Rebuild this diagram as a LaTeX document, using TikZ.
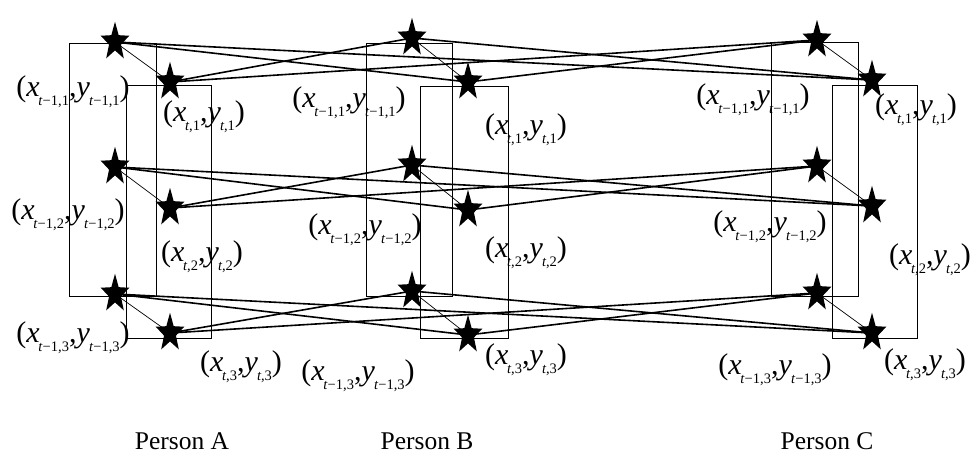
\documentclass[tikz,border=0pt]{standalone}
\usepackage{fontspec}
\setmainfont{Liberation Serif}
\usetikzlibrary{shapes.geometric}
\pgfdeclarelayer{bg}
\pgfsetlayers{bg,main}
\newcommand{\sbs}[1]{\raisebox{-0.3em}{\fontsize{14.5}{14.5}\selectfont #1}}
\newcommand{\labxy}[1]{(\textit{x}\kern-1.2pt\sbs{#1},\textit{y}\kern-0.8pt\sbs{#1})}
\newcommand{\labp}[1]{\labxy{\textit{t}−1,#1}}
\newcommand{\labc}[1]{\labxy{\textit{t},#1}}
\begin{document}
\begin{tikzpicture}[x=1pt,y=-1pt,
  starnode/.style={star,star points=5,star point ratio=2.4,fill=black,draw=none,inner sep=0pt,minimum size=30pt,yscale=1.35},
  box/.style={draw=black,line width=1pt},
  link/.style={line width=1.6pt},
  self/.style={line width=0.7pt},
  lbl/.style={inner sep=0pt,font=\fontsize{30}{32}\selectfont},
  plbl/.style={inner sep=0pt,font=\fontsize{25.5}{28}\selectfont}]
\useasboundingbox (0,0) rectangle (972,469);
% boxes
\draw[box] (69,43) rectangle (156,296);
\draw[box] (126,85) rectangle (211,338);
\draw[box] (366,43) rectangle (452,296);
\draw[box] (420,86) rectangle (508,338);
\draw[box] (771,42) rectangle (858,296);
\draw[box] (832,85) rectangle (917,338);
% stars: previous (t-1) and current (t)
\node[starnode] (pA1) at (115,42) {};
\node[starnode] (pA2) at (115,167) {};
\node[starnode] (pA3) at (115,294) {};
\node[starnode] (cA1) at (170,82) {};
\node[starnode] (cA2) at (170,208) {};
\node[starnode] (cA3) at (170,333) {};
\node[starnode] (pB1) at (412,38) {};
\node[starnode] (pB2) at (412,165) {};
\node[starnode] (pB3) at (412,291) {};
\node[starnode] (cB1) at (468,82) {};
\node[starnode] (cB2) at (468,210) {};
\node[starnode] (cB3) at (468,335) {};
\node[starnode] (pC1) at (817,40) {};
\node[starnode] (pC2) at (817,166) {};
\node[starnode] (pC3) at (817,293) {};
\node[starnode] (cC1) at (872,80) {};
\node[starnode] (cC2) at (872,206) {};
\node[starnode] (cC3) at (872,333) {};
% connectors
\begin{pgfonlayer}{bg}
\foreach \k in {1,2,3}{
  \draw[self] (pA\k.center) -- (cA\k.center);
  \draw[self] (pB\k.center) -- (cB\k.center);
  \draw[self] (pC\k.center) -- (cC\k.center);
  \draw[link] (pA\k.center) -- (cB\k.center);
  \draw[link] (pA\k.center) -- (cC\k.center);
  \draw[link] (pB\k.center) -- (cA\k.center);
  \draw[link] (pB\k.center) -- (cC\k.center);
  \draw[link] (pC\k.center) -- (cA\k.center);
  \draw[link] (pC\k.center) -- (cB\k.center);
}
\end{pgfonlayer}
% labels
\node[lbl] (lpA1) at (73,92) {\labp{1}};
\node[lbl] (lcA1) at (204,117) {\labc{1}};
\node[lbl] (lpA2) at (68,215) {\labp{2}};
\node[lbl] (lcA2) at (202,257) {\labc{2}};
\node[lbl] (lpA3) at (73,338) {\labp{3}};
\node[lbl] (lcA3) at (241,367) {\labc{3}};
\node[lbl] (lpB1) at (349,103) {\labp{1}};
\node[lbl] (lcB1) at (526,130) {\labc{1}};
\node[lbl] (lpB2) at (365,230) {\labp{2}};
\node[lbl] (lcB2) at (526,253) {\labc{2}};
\node[lbl] (lpB3) at (358,376) {\labp{3}};
\node[lbl] (lcB3) at (526,360) {\labc{3}};
\node[lbl] (lpC1) at (753,100) {\labp{1}};
\node[lbl] (lcC1) at (916,110) {\labc{1}};
\node[lbl] (lpC2) at (770,227) {\labp{2}};
\node[lbl] (lcC2) at (930,260) {\labc{2}};
\node[lbl] (lpC3) at (775,370) {\labp{3}};
\node[lbl] (lcC3) at (925,365) {\labc{3}};
\node[plbl] (nA) at (182,441) {Person A};
\node[plbl] (nB) at (427,441) {Person B};
\node[plbl] (nC) at (827,441) {Person C};
\end{tikzpicture}
\end{document}
